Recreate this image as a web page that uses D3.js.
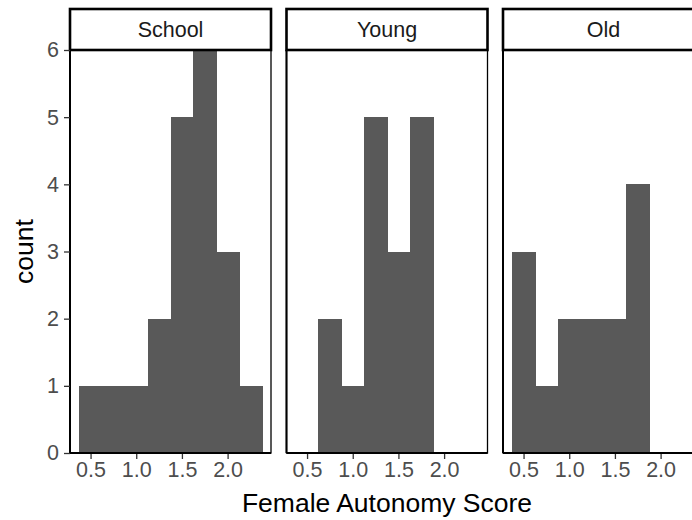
<!DOCTYPE html>
<html>
<head>
<meta charset="utf-8">
<script src="https://cdn.jsdelivr.net/npm/d3@7"></script>
<style>
  body { margin: 0; background: #fff; }
  svg { display: block; font-family: "Liberation Sans", Arial, Helvetica, sans-serif; }
</style>
</head>
<body>
<svg id="chart"></svg>
<script>
var svgWidth = 692,
  svgHeight = 520;

// facet names and histogram bins (binwidth 0.25)
var panels = ["School", "Young", "Old"];
var binStarts = [0.375, 0.625, 0.875, 1.125, 1.375, 1.625, 1.875, 2.125];
var binWidth = 0.25;
var schoolCounts = [1, 1, 1, 2, 5, 6, 3, 1];
var youngCounts = [0, 2, 1, 5, 3, 5, 0, 0];
var oldCounts = [3, 1, 2, 2, 2, 4, 0, 0];
var xTicks = [0.5, 1.0, 1.5, 2.0];
var yTicks = [0, 1, 2, 3, 4, 5, 6];

var countsByPanel = [schoolCounts, youngCounts, oldCounts];

var panelLeft = 70,
  panelWidth = 201,
  panelGap = 15.5,
  stripTop = 9,
  panelTop = 50,
  panelBottom = 453;

var tickFont = "21.5px",
  titleFont = "26.5px";

var svg = d3.select("#chart").attr("width", svgWidth).attr("height", svgHeight);

var yScale = d3.scaleLinear().domain([0, 6]).range([panelBottom, panelTop]);

panels.forEach(function (name, i) {
  var x0 = panelLeft + i * (panelWidth + panelGap);
  var xScale = d3.scaleLinear().domain([0.275, 2.475]).range([x0, x0 + panelWidth]);

  var bins = binStarts.map(function (b, j) {
    return { x0: b, x1: b + binWidth, n: countsByPanel[i][j] };
  }).filter(function (d) { return d.n > 0; });

  var g = svg.append("g");

  g.selectAll(".bar")
    .data(bins)
    .enter()
    .append("rect")
    .attr("class", "bar")
    .attr("x", function (d) { return xScale(d.x0); })
    .attr("y", function (d) { return yScale(d.n); })
    .attr("width", function (d) { return xScale(d.x1) - xScale(d.x0) + 1; })
    .attr("height", function (d) { return yScale(0) - yScale(d.n); })
    .attr("fill", "#595959")
    .attr("shape-rendering", "crispEdges");

  // panel border
  g.append("rect")
    .attr("x", x0)
    .attr("y", panelTop)
    .attr("width", panelWidth)
    .attr("height", panelBottom - panelTop)
    .attr("fill", "none")
    .attr("stroke", "#000")
    .attr("stroke-width", 1.3);

  // x axis
  var xAxis = g.append("g")
    .attr("transform", "translate(0," + panelBottom + ")")
    .call(d3.axisBottom(xScale).tickValues(xTicks).tickSize(6).tickPadding(3)
      .tickFormat(d3.format(".1f")));
  xAxis.select(".domain").remove();
  xAxis.selectAll(".tick line").attr("stroke", "#333").attr("stroke-width", 1.3);
  xAxis.selectAll(".tick text")
    .attr("fill", "#4D4D4D")
    .style("font-size", tickFont)
    .style("font-family", "inherit");
  g.append("line")
    .attr("x1", x0).attr("x2", x0 + panelWidth)
    .attr("y1", panelBottom).attr("y2", panelBottom)
    .attr("stroke", "#000").attr("stroke-width", 2);

  // y axis line (every panel has one)
  g.append("line")
    .attr("x1", x0).attr("x2", x0)
    .attr("y1", panelTop).attr("y2", panelBottom)
    .attr("stroke", "#000").attr("stroke-width", 2);

  // strip
  g.append("rect")
    .attr("x", x0)
    .attr("y", stripTop)
    .attr("width", panelWidth)
    .attr("height", panelTop - stripTop)
    .attr("fill", "#fff")
    .attr("stroke", "#000")
    .attr("stroke-width", 2.6);
  g.append("text")
    .attr("x", x0 + panelWidth / 2)
    .attr("y", (stripTop + panelTop) / 2)
    .attr("dy", "0.35em")
    .attr("text-anchor", "middle")
    .attr("fill", "#1A1A1A")
    .style("font-size", tickFont)
    .text(name);
});

// y axis ticks on the first panel only
var yAxis = svg.append("g")
  .attr("transform", "translate(" + panelLeft + ",0)")
  .call(d3.axisLeft(yScale).tickValues(yTicks).tickSize(6).tickPadding(5).tickFormat(d3.format("d")));
yAxis.select(".domain").remove();
yAxis.selectAll(".tick line").attr("stroke", "#333").attr("stroke-width", 1.3);
yAxis.selectAll(".tick text")
  .attr("fill", "#4D4D4D")
  .style("font-size", tickFont)
  .style("font-family", "inherit");

// axis titles
svg.append("text")
  .attr("x", panelLeft + (3 * panelWidth + 2 * panelGap) / 2)
  .attr("y", 512)
  .attr("text-anchor", "middle")
  .attr("fill", "#000")
  .style("font-size", titleFont)
  .text("Female Autonomy Score");

svg.append("text")
  .attr("transform", "translate(33," + (panelTop + panelBottom) / 2 + ") rotate(-90)")
  .attr("text-anchor", "middle")
  .attr("fill", "#000")
  .style("font-size", titleFont)
  .text("count");
</script>
</body>
</html>
